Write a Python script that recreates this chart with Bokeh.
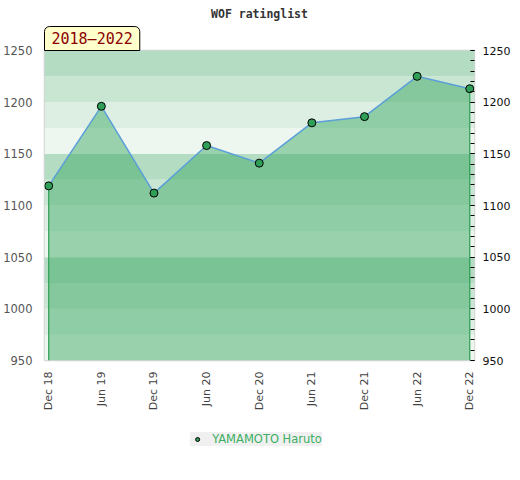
from bokeh.plotting import figure
from bokeh.layouts import column
from bokeh.models import (Title, Legend, LegendItem, LinearAxis, FixedTicker,
                          SingleIntervalTicker, BoxAnnotation, Range1d)
from bokeh.embed import file_html
from bokeh.resources import INLINE

# ---- data ----
dates = ["Dec 18", "Jun 19", "Dec 19", "Jun 20", "Dec 20", "Jun 21", "Dec 21", "Jun 22", "Dec 22"]
ratings = [1119, 1196, 1112, 1158, 1141, 1180, 1186, 1225, 1213]
player = "YAMAMOTO Haruto"
period = "2018\u20132022"
title = "WOF ratinglist"
y_min, y_max = 950, 1250
band_edges = [950, 975, 1000, 1025, 1050, 1075, 1100, 1125, 1150, 1175, 1200, 1225, 1250]
band_colors = ["#eef6f0", "#ddeee3", "#c9e6d3", "#b3dcc2"]

xs = list(range(len(dates)))
marker_style = dict(size=8, fill_color="#2f9f58", line_color="black", line_width=1)

p = figure(frame_width=430, frame_height=310,
           output_backend="svg", toolbar_location=None,
           x_range=Range1d(-0.08, len(dates) - 1 + 0.09), y_range=Range1d(y_min, y_max),
           min_border_left=0, min_border_top=0, min_border_bottom=0, min_border_right=0,
           background_fill_color="white", border_fill_color="white")
p.outline_line_color = "#d4d4d4"
p.outline_line_width = 1.5
p.xgrid.visible = False
p.ygrid.visible = False

# background bands
for i in range(len(band_edges) - 1):
    p.add_layout(BoxAnnotation(bottom=band_edges[i], top=band_edges[i + 1],
                               fill_color=band_colors[i % 4], fill_alpha=1.0,
                               line_color=None, level="underlay"))

# area
p.varea(x=xs, y1=[y_min] * len(xs), y2=ratings, fill_color="#35a65e", fill_alpha=0.46)
p.segment(x0=[xs[0], xs[-1]], y0=[y_min, y_min], x1=[xs[0], xs[-1]], y1=[ratings[0], ratings[-1]],
          line_color="#2e9e55", line_width=1.2)
p.line(xs, ratings, line_color="#5b9fd8", line_width=1.5)
p.scatter(xs, ratings, **marker_style)

# x axis
p.xaxis.ticker = FixedTicker(ticks=xs)
p.xaxis.major_label_overrides = {i: d for i, d in enumerate(dates)}
p.xaxis.major_label_orientation = 3.14159265 / 2
p.xaxis.axis_line_color = None
p.xaxis.major_tick_line_color = None
p.xaxis.minor_tick_line_color = None
p.xaxis.major_tick_out = 0
p.xaxis.major_tick_in = 0
p.xaxis.minor_tick_out = 0
p.xaxis.major_label_standoff = 11
p.xaxis.major_label_text_font = "DejaVu Sans"
p.xaxis.major_label_text_font_size = "11px"
p.xaxis.major_label_text_color = "#444444"

# left y axis
p.yaxis.ticker = SingleIntervalTicker(interval=50)
p.yaxis.axis_line_color = None
p.yaxis.major_tick_line_color = None
p.yaxis.minor_tick_line_color = None
p.yaxis.major_tick_out = 4
p.yaxis.minor_tick_out = 0
p.yaxis.major_label_standoff = 8
p.yaxis.major_label_text_font = "DejaVu Sans"
p.yaxis.major_label_text_font_size = "11.5px"
p.yaxis.major_label_text_color = "#555555"

# right y axis
ry = LinearAxis(ticker=SingleIntervalTicker(interval=50, num_minor_ticks=5))
ry.axis_line_color = None
ry.major_tick_in = 4
ry.major_tick_out = 0
ry.minor_tick_in = 4
ry.minor_tick_out = 0
ry.major_tick_line_color = "black"
ry.minor_tick_line_color = "black"
ry.major_label_standoff = 8
ry.major_label_text_font = "DejaVu Sans"
ry.major_label_text_font_size = "11px"
ry.major_label_text_color = "#111111"
p.add_layout(ry, "right")

# period badge (closest to frame) and title
badge = Title(text=period, align="left", text_font="DejaVu Sans Mono", text_font_size="15px",
              text_font_style="normal", text_color="#8b0000", background_fill_color="#ffffcc",
              border_line_color="black", border_line_width=1, standoff=0, offset=0,
              padding=dict(left=7, right=7, top=3, bottom=3),
              border_radius=dict(top_left=5, top_right=5, bottom_right=0, bottom_left=0))
p.add_layout(badge, "above")
main = Title(text=title, align="center", text_font="DejaVu Sans Mono", text_font_size="11.5px",
             text_font_style="bold", text_color="#333333", standoff=8)
p.add_layout(main, "above")

# legend strip below the chart (same series, out of view, only for the key glyph)
lg = figure(width=507, height=51, output_backend="svg", toolbar_location=None,
            x_axis_type=None, y_axis_type=None, x_range=Range1d(0, 1), y_range=Range1d(0, 1),
            min_border_left=0, min_border_top=0, min_border_bottom=0, min_border_right=0,
            background_fill_color="white", border_fill_color="white")
lg.outline_line_color = None
lg.xgrid.visible = False
lg.ygrid.visible = False
key = lg.scatter(xs, ratings, **marker_style)
legend = Legend(items=[LegendItem(label=player, renderers=[key])], location="center",
                orientation="horizontal",
                background_fill_color="#f0f0f0", background_fill_alpha=1, border_line_color=None,
                padding=7, margin=0, glyph_width=14, glyph_height=10, label_height=10,
                label_standoff=8, label_text_font="DejaVu Sans", label_text_font_size="11.5px",
                label_text_color="#3cae63")
lg.add_layout(legend, "center")

open("out.html", "w").write(file_html(column(p, lg, spacing=0), INLINE))
